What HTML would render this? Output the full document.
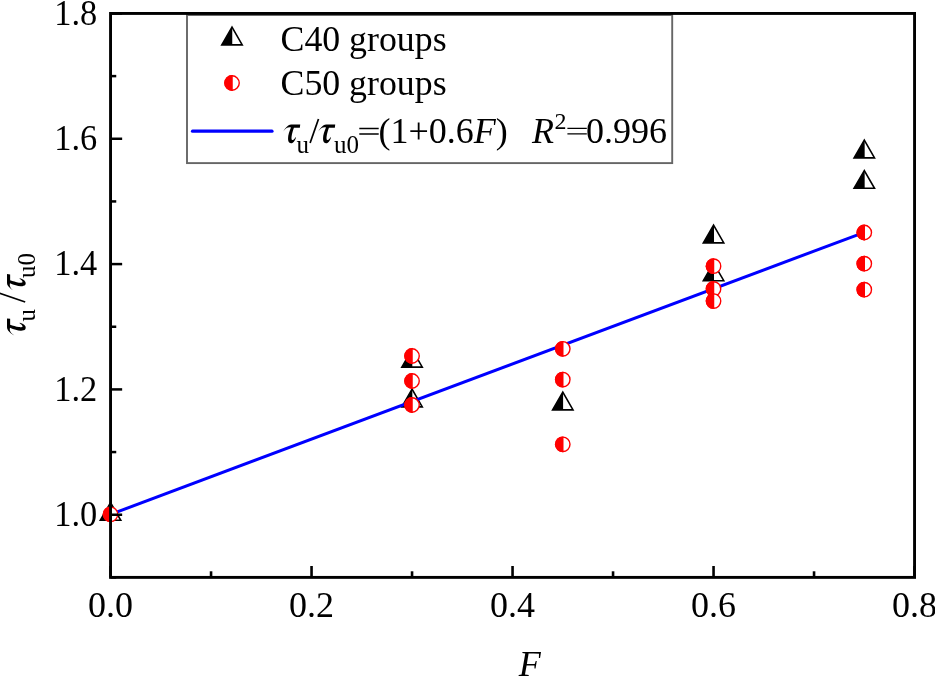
<!DOCTYPE html><html><head><meta charset="utf-8"><style>html,body{margin:0;padding:0;background:#fff;overflow:hidden}svg{display:block;will-change:transform}text{font-family:"Liberation Serif",serif}</style></head><body><svg width="935" height="676" viewBox="0 0 935 676"><defs><path id="tau" d="M2.22,10.72 C3.2,8.9 4.9,6.2 7.2,4.6 C8.3,3.8 9.3,3.51 10.35,3.51 L19.22,3.51 L18.85,6.65 L12.94,6.65 C12.0,9.3 11.0,12.5 10.6,15.4 C10.35,17.2 10.5,19.1 11.3,19.1 C12.4,19.1 13.6,17.6 14.79,15.9 L14.97,16.45 C14.6,18.2 13.2,21.0 11.4,21.9 C10.6,22.3 9.2,22.3 8.5,21.8 C7.4,21.0 7.0,19.3 7.05,17.2 C7.1,14.3 8.2,10.3 9.98,6.47 C8.5,6.1 6.9,6.3 5.6,7.1 C4.4,7.9 3.2,9.2 2.22,10.72 Z"/></defs><path d="M100.33,520.30 L110.55,502.60 L111.05,503.50 L111.05,520.30 Z" fill="#000"/><path d="M111.05,503.50 L120.77,520.30 L111.05,520.30 Z" fill="#fff"/><path d="M110.55,502.60 L100.33,520.30 L120.77,520.30 Z" fill="none" stroke="#000" stroke-width="1.6"/><path d="M401.83,367.10 L412.05,349.40 L412.55,350.30 L412.55,367.10 Z" fill="#000"/><path d="M412.55,350.30 L422.27,367.10 L412.55,367.10 Z" fill="#fff"/><path d="M412.05,349.40 L401.83,367.10 L422.27,367.10 Z" fill="none" stroke="#000" stroke-width="1.6"/><path d="M401.83,406.90 L412.05,389.20 L412.55,390.10 L412.55,406.90 Z" fill="#000"/><path d="M412.55,390.10 L422.27,406.90 L412.55,406.90 Z" fill="#fff"/><path d="M412.05,389.20 L401.83,406.90 L422.27,406.90 Z" fill="none" stroke="#000" stroke-width="1.6"/><path d="M552.58,409.90 L562.80,392.20 L563.30,393.10 L563.30,409.90 Z" fill="#000"/><path d="M563.30,393.10 L573.02,409.90 L563.30,409.90 Z" fill="#fff"/><path d="M562.80,392.20 L552.58,409.90 L573.02,409.90 Z" fill="none" stroke="#000" stroke-width="1.6"/><path d="M703.33,242.90 L713.55,225.20 L714.05,226.10 L714.05,242.90 Z" fill="#000"/><path d="M714.05,226.10 L723.77,242.90 L714.05,242.90 Z" fill="#fff"/><path d="M713.55,225.20 L703.33,242.90 L723.77,242.90 Z" fill="none" stroke="#000" stroke-width="1.6"/><path d="M703.33,280.70 L713.55,263.00 L714.05,263.90 L714.05,280.70 Z" fill="#000"/><path d="M714.05,263.90 L723.77,280.70 L714.05,280.70 Z" fill="#fff"/><path d="M713.55,263.00 L703.33,280.70 L723.77,280.70 Z" fill="none" stroke="#000" stroke-width="1.6"/><path d="M854.08,157.90 L864.30,140.20 L864.80,141.10 L864.80,157.90 Z" fill="#000"/><path d="M864.80,141.10 L874.52,157.90 L864.80,157.90 Z" fill="#fff"/><path d="M864.30,140.20 L854.08,157.90 L874.52,157.90 Z" fill="none" stroke="#000" stroke-width="1.6"/><path d="M854.08,188.30 L864.30,170.60 L864.80,171.50 L864.80,188.30 Z" fill="#000"/><path d="M864.80,171.50 L874.52,188.30 L864.80,188.30 Z" fill="#fff"/><path d="M864.30,170.60 L854.08,188.30 L874.52,188.30 Z" fill="none" stroke="#000" stroke-width="1.6"/><line x1="110.55" y1="514.4" x2="864.30" y2="232.3" stroke="#0000ff" stroke-width="3"/><circle cx="110.55" cy="514.30" r="7.2" fill="#fff" stroke="#f00" stroke-width="1.4"/><path d="M111.25,506.43 A7.90,7.90 0 1 0 111.25,522.17 Z" fill="#f00"/><circle cx="412.05" cy="356.00" r="7.2" fill="#fff" stroke="#f00" stroke-width="1.4"/><path d="M412.75,348.13 A7.90,7.90 0 1 0 412.75,363.87 Z" fill="#f00"/><circle cx="412.05" cy="381.00" r="7.2" fill="#fff" stroke="#f00" stroke-width="1.4"/><path d="M412.75,373.13 A7.90,7.90 0 1 0 412.75,388.87 Z" fill="#f00"/><circle cx="412.05" cy="405.00" r="7.2" fill="#fff" stroke="#f00" stroke-width="1.4"/><path d="M412.75,397.13 A7.90,7.90 0 1 0 412.75,412.87 Z" fill="#f00"/><circle cx="562.80" cy="348.80" r="7.2" fill="#fff" stroke="#f00" stroke-width="1.4"/><path d="M563.50,340.93 A7.90,7.90 0 1 0 563.50,356.67 Z" fill="#f00"/><circle cx="562.80" cy="379.60" r="7.2" fill="#fff" stroke="#f00" stroke-width="1.4"/><path d="M563.50,371.73 A7.90,7.90 0 1 0 563.50,387.47 Z" fill="#f00"/><circle cx="562.80" cy="444.30" r="7.2" fill="#fff" stroke="#f00" stroke-width="1.4"/><path d="M563.50,436.43 A7.90,7.90 0 1 0 563.50,452.17 Z" fill="#f00"/><circle cx="713.55" cy="266.20" r="7.2" fill="#fff" stroke="#f00" stroke-width="1.4"/><path d="M714.25,258.33 A7.90,7.90 0 1 0 714.25,274.07 Z" fill="#f00"/><circle cx="713.55" cy="288.90" r="7.2" fill="#fff" stroke="#f00" stroke-width="1.4"/><path d="M714.25,281.03 A7.90,7.90 0 1 0 714.25,296.77 Z" fill="#f00"/><circle cx="713.55" cy="301.10" r="7.2" fill="#fff" stroke="#f00" stroke-width="1.4"/><path d="M714.25,293.23 A7.90,7.90 0 1 0 714.25,308.97 Z" fill="#f00"/><circle cx="864.30" cy="232.50" r="7.2" fill="#fff" stroke="#f00" stroke-width="1.4"/><path d="M865.00,224.63 A7.90,7.90 0 1 0 865.00,240.37 Z" fill="#f00"/><circle cx="864.30" cy="263.70" r="7.2" fill="#fff" stroke="#f00" stroke-width="1.4"/><path d="M865.00,255.83 A7.90,7.90 0 1 0 865.00,271.57 Z" fill="#f00"/><circle cx="864.30" cy="289.70" r="7.2" fill="#fff" stroke="#f00" stroke-width="1.4"/><path d="M865.00,281.83 A7.90,7.90 0 1 0 865.00,297.57 Z" fill="#f00"/><rect x="187" y="15" width="485.2" height="148.1" fill="#fff" stroke="#666" stroke-width="1.9"/><rect x="110.55" y="13.45" width="804.00" height="563.94" fill="none" stroke="#000" stroke-width="2.9"/><line x1="110.55" y1="577.39" x2="116.25" y2="577.39" stroke="#000" stroke-width="2.5"/><line x1="110.55" y1="514.73" x2="122.15" y2="514.73" stroke="#000" stroke-width="2.5"/><line x1="110.55" y1="452.07" x2="116.25" y2="452.07" stroke="#000" stroke-width="2.5"/><line x1="110.55" y1="389.41" x2="122.15" y2="389.41" stroke="#000" stroke-width="2.5"/><line x1="110.55" y1="326.75" x2="116.25" y2="326.75" stroke="#000" stroke-width="2.5"/><line x1="110.55" y1="264.09" x2="122.15" y2="264.09" stroke="#000" stroke-width="2.5"/><line x1="110.55" y1="201.43" x2="116.25" y2="201.43" stroke="#000" stroke-width="2.5"/><line x1="110.55" y1="138.77" x2="122.15" y2="138.77" stroke="#000" stroke-width="2.5"/><line x1="110.55" y1="76.11" x2="116.25" y2="76.11" stroke="#000" stroke-width="2.5"/><line x1="110.55" y1="13.45" x2="122.15" y2="13.45" stroke="#000" stroke-width="2.5"/><text transform="translate(97.3,525.83) scale(0.955,1)" font-size="36" text-anchor="end">1.0</text><text transform="translate(97.3,400.51) scale(0.955,1)" font-size="36" text-anchor="end">1.2</text><text transform="translate(97.3,275.19) scale(0.955,1)" font-size="36" text-anchor="end">1.4</text><text transform="translate(97.3,149.87) scale(0.955,1)" font-size="36" text-anchor="end">1.6</text><text transform="translate(97.3,24.55) scale(0.955,1)" font-size="36" text-anchor="end">1.8</text><line x1="110.55" y1="577.39" x2="110.55" y2="565.99" stroke="#000" stroke-width="2.6"/><line x1="211.05" y1="577.39" x2="211.05" y2="571.29" stroke="#000" stroke-width="2.6"/><line x1="311.55" y1="577.39" x2="311.55" y2="565.99" stroke="#000" stroke-width="2.6"/><line x1="412.05" y1="577.39" x2="412.05" y2="571.29" stroke="#000" stroke-width="2.6"/><line x1="512.55" y1="577.39" x2="512.55" y2="565.99" stroke="#000" stroke-width="2.6"/><line x1="613.05" y1="577.39" x2="613.05" y2="571.29" stroke="#000" stroke-width="2.6"/><line x1="713.55" y1="577.39" x2="713.55" y2="565.99" stroke="#000" stroke-width="2.6"/><line x1="814.05" y1="577.39" x2="814.05" y2="571.29" stroke="#000" stroke-width="2.6"/><line x1="914.55" y1="577.39" x2="914.55" y2="565.99" stroke="#000" stroke-width="2.6"/><text x="110.55" y="617.0" font-size="36" text-anchor="middle">0.0</text><text x="311.55" y="617.0" font-size="36" text-anchor="middle">0.2</text><text x="512.55" y="617.0" font-size="36" text-anchor="middle">0.4</text><text x="713.55" y="617.0" font-size="36" text-anchor="middle">0.6</text><text x="914.55" y="617.0" font-size="36" text-anchor="middle">0.8</text><text x="529.7" y="676" font-size="36" font-style="italic" text-anchor="middle">F</text><use href="#tau" transform="rotate(-90) translate(-337.7,3.5)"/><use href="#tau" transform="rotate(-90) translate(-293.3,3.5)"/><text transform="rotate(-90)" x="-321.4" y="34.8" font-size="25">u</text><line x1="25.2" y1="302.0" x2="-0.5" y2="293.2" stroke="#000" stroke-width="1.7"/><text transform="rotate(-90)" x="-278.0" y="34.8" font-size="25">u0</text><path d="M221.78,44.90 L232.00,27.20 L232.50,28.10 L232.50,44.90 Z" fill="#000"/><path d="M232.50,28.10 L242.22,44.90 L232.50,44.90 Z" fill="#fff"/><path d="M232.00,27.20 L221.78,44.90 L242.22,44.90 Z" fill="none" stroke="#000" stroke-width="1.6"/><circle cx="232.05" cy="83.00" r="7.2" fill="#fff" stroke="#f00" stroke-width="1.4"/><path d="M232.75,75.13 A7.90,7.90 0 1 0 232.75,90.87 Z" fill="#f00"/><line x1="192.5" y1="131.2" x2="272" y2="131.2" stroke="#0000ff" stroke-width="3.2" stroke-linecap="round"/><text x="280.5" y="51.4" font-size="35.8">C40 groups</text><text x="280.5" y="95.2" font-size="35.8">C50 groups</text><use href="#tau" transform="translate(281,121)"/><use href="#tau" transform="translate(316.0,121)"/><text x="296.5" y="153.3" font-size="25">u</text><line x1="310.1" y1="143.0" x2="318.5" y2="119.0" stroke="#000" stroke-width="1.7"/><text x="334.0" y="153.3" font-size="25">u0</text><path d="M359.3,127.8h19.4v1.35h-19.4zM359.3,133.25h19.4v1.45h-19.4z" fill="#000"/><text x="378.5" y="143" font-size="36">(1+0.6<tspan font-style="italic">F</tspan>)</text><text x="532" y="143" font-size="36" font-style="italic">R</text><text x="554.55" y="128.8" font-size="24">2</text><path d="M567.4,127.7h19.4v1.35h-19.4zM567.4,133.15h19.4v1.45h-19.4z" fill="#000"/><text x="586" y="143" font-size="36">0.996</text></svg></body></html>
